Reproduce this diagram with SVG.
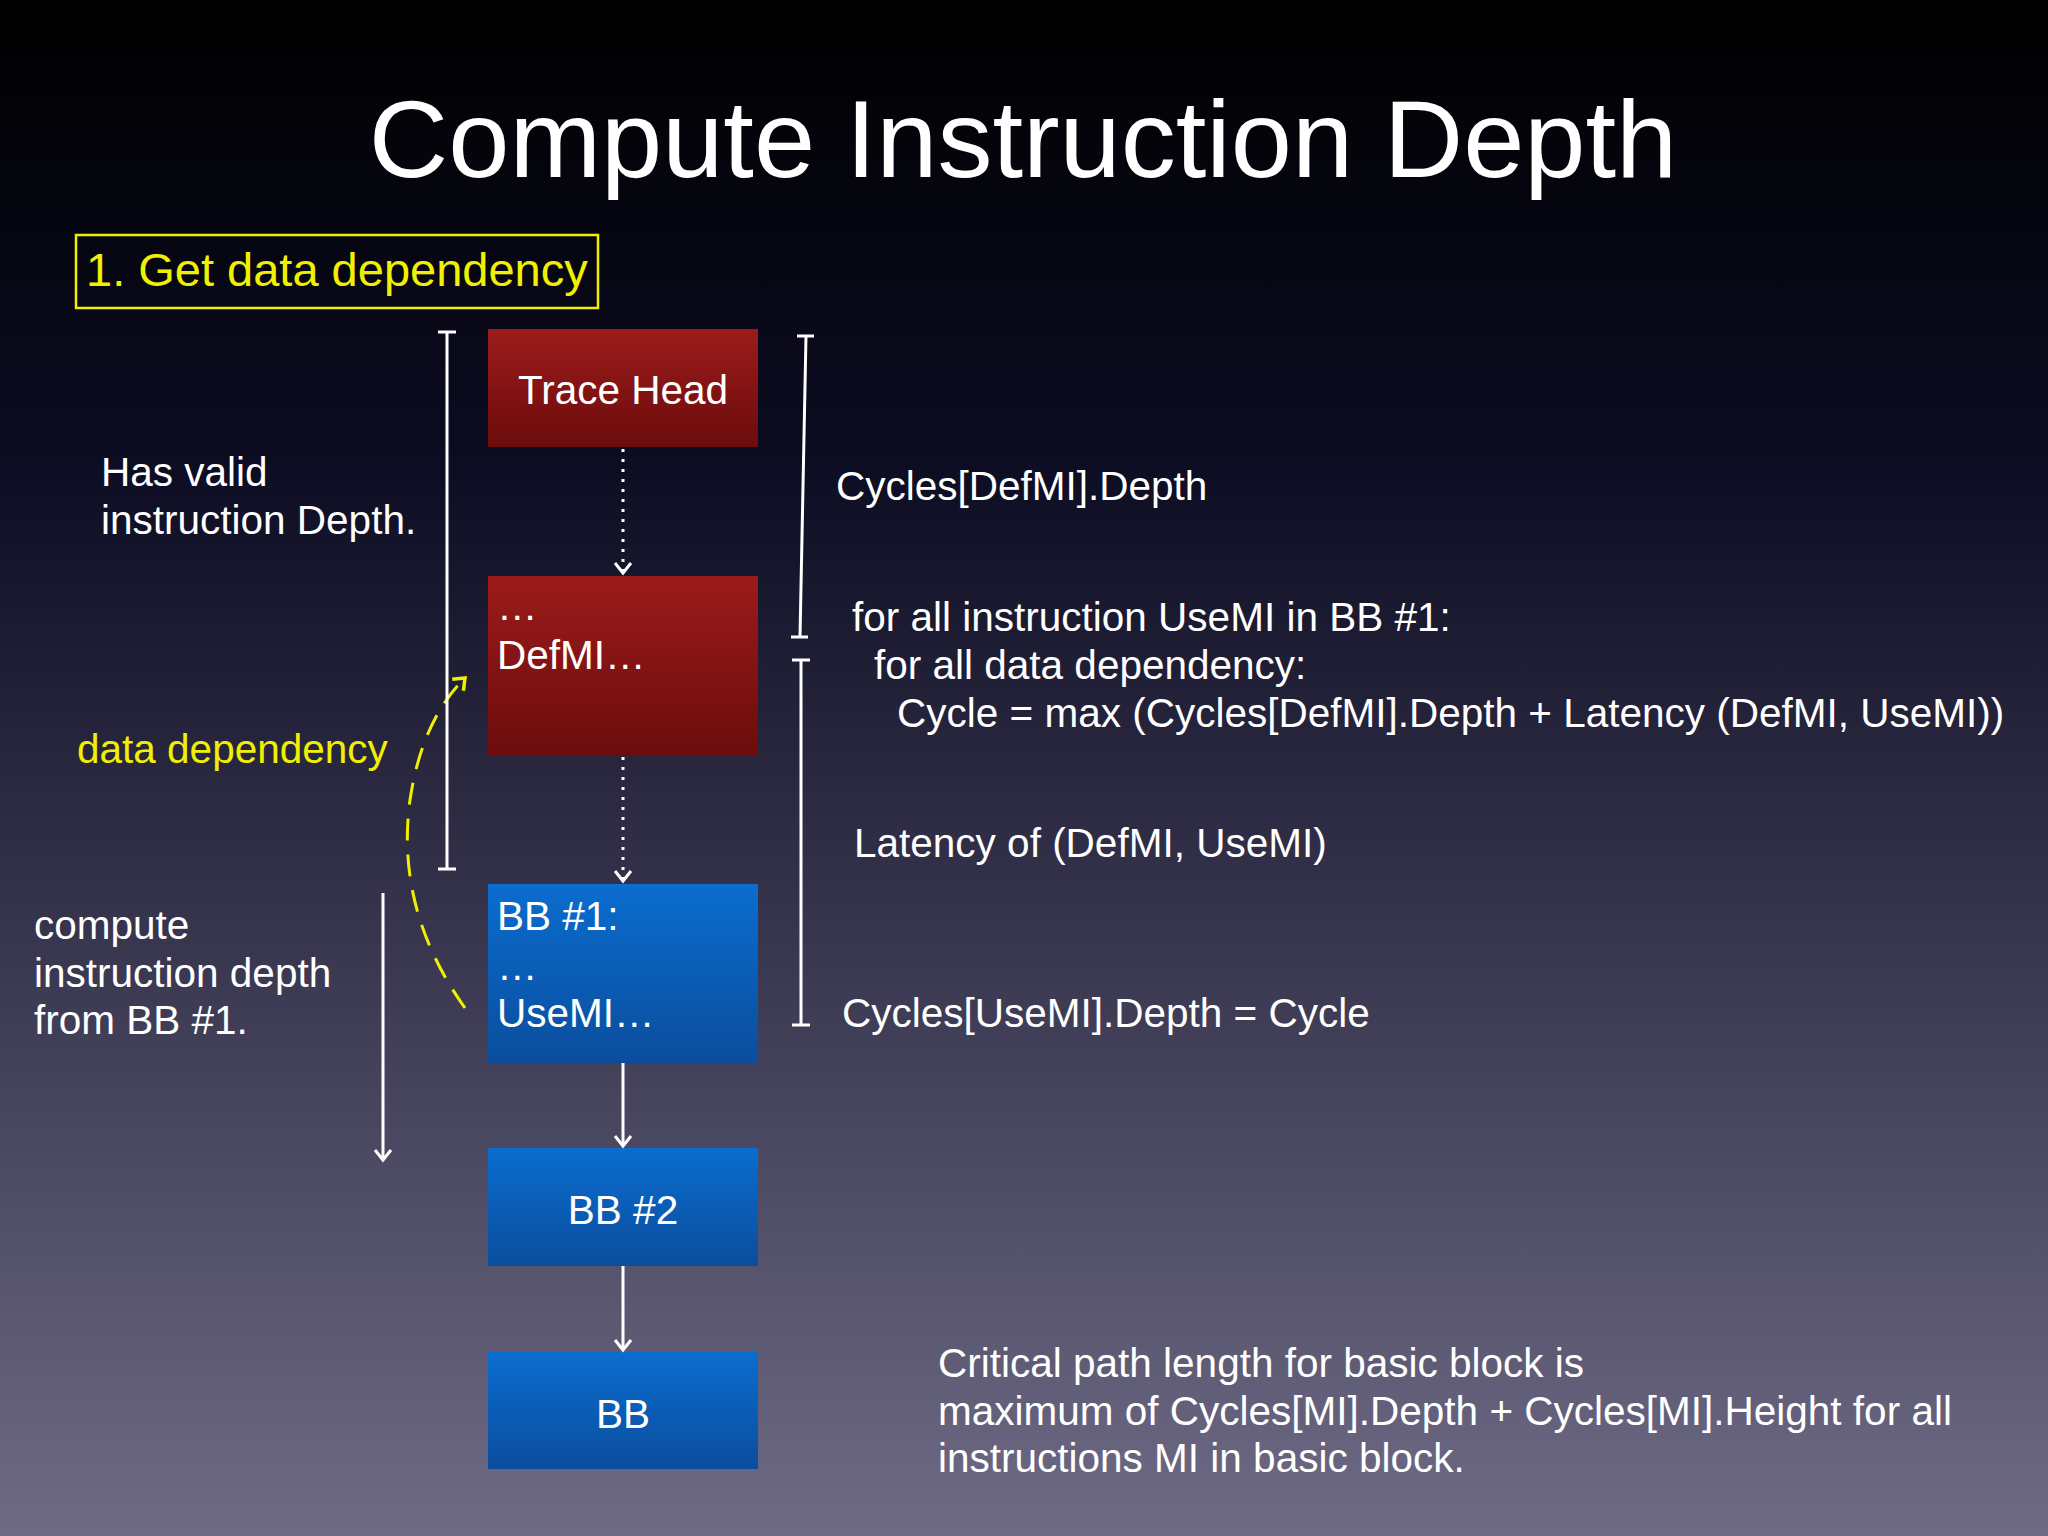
<svg xmlns="http://www.w3.org/2000/svg" width="2048" height="1536" viewBox="0 0 2048 1536">
<defs>
<linearGradient id="bg" x1="0" y1="0" x2="0" y2="1"><stop offset="0" stop-color="#000"/><stop offset="0.3" stop-color="#0c0c22"/><stop offset="1" stop-color="#6f6b86"/></linearGradient>
<linearGradient id="red" x1="0" y1="0" x2="0" y2="1"><stop offset="0" stop-color="#9c1b1b"/><stop offset="1" stop-color="#6c0c0c"/></linearGradient>
<linearGradient id="blue" x1="0" y1="0" x2="0" y2="1"><stop offset="0" stop-color="#0a6dcf"/><stop offset="1" stop-color="#0b4d9d"/></linearGradient>
<marker id="ah" markerWidth="20" markerHeight="20" refX="16" refY="10" orient="auto" markerUnits="userSpaceOnUse" viewBox="0 0 20 20"><path d="M6,2 L16,10 L6,18" fill="none" stroke="#fff" stroke-width="3"/></marker>
<marker id="ahy" markerWidth="20" markerHeight="20" refX="16" refY="10" orient="auto" markerUnits="userSpaceOnUse" viewBox="0 0 20 20"><path d="M6,2 L16,10 L6,18" fill="none" stroke="#f0f000" stroke-width="3.5"/></marker>
</defs>
<style>
text{font-family:"Liberation Sans","Open Sans",sans-serif;fill:#fff;font-size:40.5px}
.c{text-anchor:middle}
.y{fill:#f0f000}
.ln{stroke:#fff;stroke-width:3;fill:none}
</style>
<rect width="2048" height="1536" fill="url(#bg)"/>
<text x="1023" y="177" class="c" style="font-size:110px">Compute Instruction Depth</text>
<g id="label-box"><rect x="76" y="235" width="522" height="73" fill="none" stroke="#f0f000" stroke-width="2.5"/><text x="86" y="286" class="y" style="font-size:47px">1. Get data dependency</text></g>
<g id="trace-head"><rect x="488" y="329" width="270" height="118" fill="url(#red)"/><text x="623" y="404" class="c">Trace Head</text></g>
<g id="defmi"><rect x="488" y="576" width="270" height="179" fill="url(#red)"/><text x="497" y="620">…</text><text x="497" y="669">DefMI…</text></g>
<g id="bb1"><rect x="488" y="884" width="270" height="179" fill="url(#blue)"/><text x="497" y="930">BB #1:</text><text x="497" y="980">…</text><text x="497" y="1027">UseMI…</text></g>
<g id="bb2"><rect x="488" y="1148" width="270" height="118" fill="url(#blue)"/><text x="623" y="1224" class="c">BB #2</text></g>
<g id="bb"><rect x="488" y="1352" width="270" height="117" fill="url(#blue)"/><text x="623" y="1428" class="c">BB</text></g>
<g id="connectors">
<line x1="623" y1="449" x2="623" y2="573" class="ln" stroke-dasharray="3,7" marker-end="url(#ah)"/>
<line x1="623" y1="757" x2="623" y2="881" class="ln" stroke-dasharray="3,7" marker-end="url(#ah)"/>
<line x1="623" y1="1063" x2="623" y2="1146" class="ln" marker-end="url(#ah)"/>
<line x1="623" y1="1266" x2="623" y2="1350" class="ln" marker-end="url(#ah)"/>
<path d="M465,1008 Q395,910 410,800 Q422,720 465,678" fill="none" stroke="#f0f000" stroke-width="3" stroke-dasharray="22,14" marker-end="url(#ahy)"/>
<path d="M447,332 V869 M438,332 H456 M438,869 H456" class="ln"/>
<line x1="383" y1="893" x2="383" y2="1160" class="ln" marker-end="url(#ah)"/>
<path d="M806,336 L800,637 M797,336 H814 M791,637 H808" class="ln"/>
<path d="M801,660 V1025 M792,660 H810 M792,1025 H810" class="ln"/>
</g>
<text x="101" y="486">Has valid</text><text x="101" y="534">instruction Depth.</text>
<text x="77" y="763" class="y">data dependency</text>
<text x="34" y="939">compute</text><text x="34" y="987">instruction depth</text><text x="34" y="1034">from BB #1.</text>
<text x="836" y="500">Cycles[DefMI].Depth</text>
<text x="852" y="631">for all instruction UseMI in BB #1:</text>
<text x="874" y="679">for all data dependency:</text>
<text x="897" y="727">Cycle = max (Cycles[DefMI].Depth + Latency (DefMI, UseMI))</text>
<text x="854" y="857">Latency of (DefMI, UseMI)</text>
<text x="842" y="1027">Cycles[UseMI].Depth = Cycle</text>
<text x="938" y="1377">Critical path length for basic block is</text>
<text x="938" y="1425">maximum of Cycles[MI].Depth + Cycles[MI].Height for all</text>
<text x="938" y="1472">instructions MI in basic block.</text>
</svg>
